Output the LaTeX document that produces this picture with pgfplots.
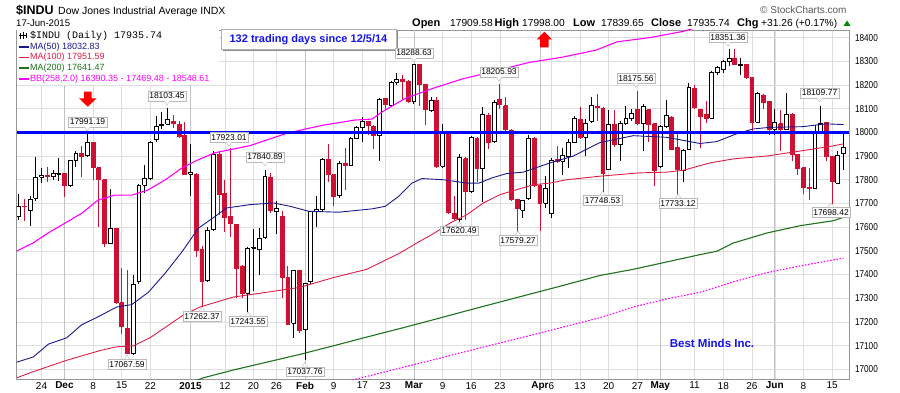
\documentclass[border=0pt]{standalone}
\usepackage{fontspec}
\setmainfont{Liberation Sans}
\newfontfamily\monofont{Liberation Mono}
\newfontfamily\tickfont[FakeStretch=0.82]{Liberation Sans}
\usepackage{pgfplots}
\pgfplotsset{compat=1.18}
\definecolor{cred}{RGB}{204,17,51}
\definecolor{ma50}{RGB}{25,25,140}
\definecolor{ma100}{RGB}{220,30,70}
\definecolor{ma200}{RGB}{30,115,30}
\definecolor{bbm}{RGB}{255,0,255}
\definecolor{hline}{RGB}{0,0,255}
\definecolor{tblue}{RGB}{20,20,235}
\definecolor{gridc}{RGB}{222,222,222}
\definecolor{monthc}{RGB}{195,195,195}
\definecolor{framec}{RGB}{150,150,150}
\pgfplotsset{
 wickhb/.style={draw=black,line width=0.8pt,forget plot},
 wickhr/.style={draw=cred,line width=0.8pt,forget plot},
 wickfb/.style={draw=black,line width=0.8pt,forget plot},
 wickfr/.style={draw=cred,line width=0.8pt,forget plot},
 bodyhb/.style={draw=black,fill=white,line width=0.8pt,forget plot},
 bodyhr/.style={draw=cred,fill=white,line width=0.8pt,forget plot},
 bodyfb/.style={draw=black,fill=black,line width=0.8pt,forget plot},
 bodyfr/.style={draw=cred,fill=cred,line width=0.8pt,forget plot},
}
\newcommand\cndl[6]{%
  \pgfmathsetmacro\xl{#1-0.34}%
  \pgfmathsetmacro\xr{#1+0.34}%
  \edef\cndltmp{%
    \noexpand\addplot[wick#6] coordinates {(#1,#3) (#1,#4)};%
    \noexpand\addplot[body#6] coordinates {(\xl,#2) (\xr,#2) (\xr,#5) (\xl,#5) (\xl,#2)};%
  }%
  \cndltmp
}
\newcommand\lf{\fontsize{8.5}{9}\selectfont}
\tikzset{vlbl/.style={draw=gray!55,fill=white,inner xsep=1.5pt,inner ysep=1.5pt,text height=6.3pt,text depth=0.3pt,font=\lf}}
\newcommand\lbltop[3]{%
  \node[vlbl] (t) at (#1pt,-#2pt) {#3};
  \fill[white] ([xshift=-2.8pt]t.south) -- ([yshift=-4pt]t.south) -- ([xshift=2.8pt]t.south) -- cycle;
  \draw[gray!55] ([xshift=-2.8pt]t.south) -- ([yshift=-4pt]t.south) -- ([xshift=2.8pt]t.south);
}
\newcommand\lblbot[3]{%
  \node[vlbl] (t) at (#1pt,-#2pt) {#3};
  \fill[white] ([xshift=-2.8pt]t.north) -- ([yshift=4pt]t.north) -- ([xshift=2.8pt]t.north) -- cycle;
  \draw[gray!55] ([xshift=-2.8pt]t.north) -- ([yshift=4pt]t.north) -- ([xshift=2.8pt]t.north);
}
\begin{document}
\begin{tikzpicture}
\begin{axis}[
  at={(16.7pt,-30pt)}, anchor=north west,
  scale only axis, width=832.3pt, height=349pt,
  xmin=-8.33, xmax=136.95,
  ymin=16959, ymax=18432,
  scaled y ticks=false, scaled x ticks=false,
  ytick={17000,17100,17200,17300,17400,17500,17600,17700,17800,17900,18000,18100,18200,18300,18400},
  yticklabels={17000,17100,17200,17300,17400,17500,17600,17700,17800,17900,18000,18100,18200,18300,18400},
  yticklabel pos=right,
  yticklabel style={font=\tickfont\fontsize{10}{11}\selectfont, xshift=2.5pt},
  xtick={-4,0,5,10,15,22,28,33,37,42,47,52,56,61,66,71,76,83,85,90,95,100,104,110,115,120,124,129,134},
  xticklabels={24,\textbf{Dec},8,15,22,\textbf{2015},12,20,26,\textbf{Feb},9,17,23,\textbf{Mar},9,16,23,\textbf{Apr},6,13,20,27,\textbf{May},11,18,26,\textbf{Jun},8,15},
  xticklabel style={font=\fontsize{10}{11}\selectfont, yshift=0.5pt},
  extra x ticks={0,22,42,61,83,104,124},
  extra x tick labels={},
  extra x tick style={major grid style={draw=monthc,line width=0.7pt}},
  grid=major,
  major grid style={draw=gridc,line width=0.6pt},
  major tick length=0pt,
  tick style={draw=none},
  axis line style={draw=framec,line width=0.7pt},
]
% ---- candles: index, open, high, low, close, type
\cndl{-8}{17647}{17740}{17630}{17687.82}{hb}
\cndl{-7}{17688}{17720}{17626}{17685.73}{fr}
\cndl{-6}{17670}{17730}{17603}{17719.00}{hb}
\cndl{-5}{17722}{17894}{17710}{17810.06}{hb}
\cndl{-4}{17810}{17850}{17786}{17817.90}{hb}
\cndl{-3}{17820}{17855}{17790}{17814.94}{fr}
\cndl{-2}{17815}{17840}{17800}{17827.75}{hb}
\cndl{-1}{17824}{17893}{17795}{17828.24}{hb}
\cndl{0}{17828}{17830}{17727}{17776.80}{fr}
\cndl{1}{17777}{17885}{17770}{17879.55}{hb}
\cndl{2}{17880}{17920}{17855}{17912.62}{hb}
\cndl{3}{17912}{17944}{17811}{17900.10}{fr}
\cndl{4}{17903}{17991.19}{17895}{17958.79}{hb}
\cndl{5}{17957}{17960}{17800}{17852.48}{fr}
\cndl{6}{17850}{17852}{17600}{17801.20}{fr}
\cndl{7}{17801}{17805}{17515}{17533.15}{fr}
\cndl{8}{17533}{17760}{17530}{17596.34}{hb}
\cndl{9}{17594}{17596}{17275}{17280.83}{fr}
\cndl{10}{17281}{17427}{17150}{17180.84}{fr}
\cndl{11}{17173}{17420}{17067.59}{17068.87}{fr}
\cndl{12}{17069}{17400}{17060}{17356.87}{hb}
\cndl{13}{17370}{17780}{17360}{17778.15}{hb}
\cndl{14}{17778}{17862}{17745}{17804.80}{hb}
\cndl{15}{17805}{17965}{17800}{17959.44}{hb}
\cndl{16}{17970}{18069}{17960}{18024.17}{hb}
\cndl{17}{18035}{18086}{18015}{18030.21}{fb}
\cndl{18}{18035}{18103.45}{18030}{18053.71}{hb}
\cndl{19}{18047}{18075}{18020}{18038.23}{fr}
\cndl{20}{18035}{18050}{17975}{17983.07}{fr}
\cndl{21}{17987}{18043}{17820}{17823.07}{fr}
\cndl{22}{17823}{17951}{17731}{17832.99}{hb}
\cndl{23}{17823}{17830}{17476}{17501.65}{fr}
\cndl{24}{17504}{17520}{17262.37}{17371.64}{fr}
\cndl{25}{17374}{17600}{17370}{17584.52}{hb}
\cndl{26}{17590}{17923.01}{17585}{17907.87}{hb}
\cndl{27}{17907}{17916}{17650}{17737.37}{fr}
\cndl{28}{17744}{17800}{17580}{17640.84}{fr}
\cndl{29}{17646}{17935}{17560}{17613.68}{fr}
\cndl{30}{17610}{17615}{17300}{17427.09}{fr}
\cndl{31}{17436}{17440}{17300}{17320.71}{fr}
\cndl{32}{17320}{17515}{17243.55}{17511.57}{hb}
\cndl{33}{17510}{17590}{17330}{17515.23}{hb}
\cndl{34}{17508}{17596}{17400}{17554.28}{hb}
\cndl{35}{17557}{17840.89}{17550}{17813.98}{hb}
\cndl{36}{17811}{17830}{17660}{17672.60}{fr}
\cndl{37}{17668}{17710}{17570}{17678.70}{hb}
\cndl{38}{17645}{17670}{17300}{17387.21}{fr}
\cndl{39}{17388}{17436}{17187}{17191.37}{fr}
\cndl{40}{17194}{17420}{17133}{17416.85}{hb}
\cndl{41}{17419}{17420}{17155}{17164.95}{fr}
\cndl{42}{17167}{17365}{17037.76}{17361.04}{hb}
\cndl{43}{17370}{17670}{17360}{17666.40}{hb}
\cndl{44}{17666}{17730}{17600}{17673.02}{hb}
\cndl{45}{17674}{17890}{17670}{17884.88}{hb}
\cndl{46}{17886}{17951}{17790}{17824.29}{fr}
\cndl{47}{17822}{17825}{17688}{17729.21}{fr}
\cndl{48}{17733}{17880}{17725}{17868.76}{hb}
\cndl{49}{17870}{17935}{17758}{17862.14}{fr}
\cndl{50}{17860}{17980}{17860}{17972.38}{hb}
\cndl{51}{17974}{18025}{17970}{18019.35}{hb}
\cndl{52}{18021}{18065}{17960}{18047.58}{hb}
\cndl{53}{18045}{18050}{17990}{18029.85}{fr}
\cndl{54}{18026}{18030}{17928}{17985.77}{fr}
\cndl{55}{17986}{18145}{17879}{18140.44}{hb}
\cndl{56}{18144}{18145}{18100}{18116.84}{fr}
\cndl{57}{18112}{18215}{18105}{18209.19}{hb}
\cndl{58}{18212}{18249}{18200}{18224.57}{hb}
\cndl{59}{18224}{18240}{18135}{18214.42}{fr}
\cndl{60}{18215}{18220}{18125}{18132.70}{fr}
\cndl{61}{18130}{18288.63}{18120}{18288.63}{hb}
\cndl{62}{18288}{18289}{18110}{18203.37}{fr}
\cndl{63}{18202}{18205}{18029}{18096.90}{fr}
\cndl{64}{18093}{18150}{18085}{18135.72}{hb}
\cndl{65}{18136}{18150}{17850}{17856.78}{fr}
\cndl{66}{17857}{18036}{17850}{17995.72}{hb}
\cndl{67}{17993}{17995}{17655}{17662.94}{fr}
\cndl{68}{17659}{17730}{17630}{17635.39}{fr}
\cndl{69}{17632}{17910}{17620.49}{17895.22}{hb}
\cndl{70}{17889}{17895}{17630}{17749.31}{fr}
\cndl{71}{17751}{17985}{17745}{17977.42}{hb}
\cndl{72}{17974}{17980}{17790}{17849.08}{fr}
\cndl{73}{17846}{18105}{17705}{18076.19}{hb}
\cndl{74}{18072}{18080}{17931}{17959.03}{fr}
\cndl{75}{17960}{18135}{17955}{18127.65}{hb}
\cndl{76}{18140}{18205.93}{18100}{18116.04}{fr}
\cndl{77}{18112}{18150}{18000}{18011.14}{fr}
\cndl{78}{18010}{18015}{17710}{17718.54}{fr}
\cndl{79}{17716}{17720}{17579.27}{17678.23}{fr}
\cndl{80}{17672}{17715}{17640}{17712.66}{hb}
\cndl{81}{17720}{17990}{17715}{17976.31}{hb}
\cndl{82}{17975}{17980}{17770}{17776.12}{fr}
\cndl{83}{17776}{17780}{17584}{17698.18}{fr}
\cndl{84}{17700}{17815}{17681}{17763.24}{hb}
\cndl{85}{17660}{17890}{17640}{17880.85}{hb}
\cndl{86}{17886}{17943}{17870}{17875.42}{fr}
\cndl{87}{17879}{17935}{17820}{17902.51}{hb}
\cndl{88}{17897}{17970}{17850}{17958.73}{hb}
\cndl{89}{17957}{18070}{17955}{18057.65}{hb}
\cndl{90}{18055}{18108}{17970}{17977.04}{fr}
\cndl{91}{17979}{18055}{17900}{18036.70}{hb}
\cndl{92}{18046}{18150}{18040}{18112.61}{hb}
\cndl{93}{18110}{18160}{18050}{18105.77}{fr}
\cndl{94}{18103}{18105}{17748.53}{17826.30}{fr}
\cndl{95}{17843}{18093}{17840}{18034.93}{hb}
\cndl{96}{18034}{18093}{17940}{17949.59}{fr}
\cndl{97}{17950}{18050}{17880}{18038.27}{hb}
\cndl{98}{18036}{18110}{18030}{18058.69}{hb}
\cndl{99}{18057}{18100}{18050}{18080.14}{hb}
\cndl{100}{18098}{18175.56}{18030}{18037.97}{fr}
\cndl{101}{18036}{18120}{17922}{18110.14}{hb}
\cndl{102}{18096}{18100}{17960}{18035.53}{fr}
\cndl{103}{18036}{18036}{17772}{17840.52}{fr}
\cndl{104}{17857}{18030}{17850}{18024.06}{hb}
\cndl{105}{18024}{18136}{18020}{18070.40}{hb}
\cndl{106}{18065}{18070}{17925}{17928.20}{fr}
\cndl{107}{17935}{18000}{17733.12}{17841.98}{fr}
\cndl{108}{17840}{17930}{17790}{17924.06}{hb}
\cndl{109}{17928}{18210}{17925}{18191.11}{hb}
\cndl{110}{18187}{18200}{18100}{18105.17}{fr}
\cndl{111}{18098}{18100}{17935}{18068.23}{fr}
\cndl{112}{18075}{18133}{18040}{18060.49}{fr}
\cndl{113}{18060}{18260}{18060}{18252.24}{hb}
\cndl{114}{18252}{18280}{18240}{18272.56}{hb}
\cndl{115}{18266}{18305}{18250}{18298.88}{hb}
\cndl{116}{18300}{18351.36}{18280}{18312.39}{hb}
\cndl{117}{18314}{18350}{18283}{18285.40}{fr}
\cndl{118}{18283}{18315}{18240}{18285.74}{hb}
\cndl{119}{18288}{18290}{18224}{18232.02}{fr}
\cndl{120}{18230}{18232}{18000}{18041.54}{fr}
\cndl{121}{18043}{18170}{18040}{18162.99}{hb}
\cndl{122}{18158}{18160}{18100}{18126.12}{fr}
\cndl{123}{18129}{18130}{17990}{18010.68}{fr}
\cndl{124}{18014}{18100}{17990}{18040.37}{hb}
\cndl{125}{18036}{18093}{17922}{18011.94}{fr}
\cndl{126}{18014}{18165}{18010}{18076.27}{hb}
\cndl{127}{18074}{18080}{17880}{17905.58}{fr}
\cndl{128}{17907}{17910}{17820}{17849.46}{fr}
\cndl{129}{17850}{17855}{17740}{17766.55}{fr}
\cndl{130}{17768}{17850}{17716}{17764.04}{fr}
\cndl{131}{17765}{18030}{17765}{18000.40}{hb}
\cndl{132}{18000}{18109.77}{17995}{18039.37}{hb}
\cndl{133}{18040}{18040}{17880}{17898.84}{fr}
\cndl{134}{17897}{17900}{17698.42}{17791.17}{fr}
\cndl{135}{17785}{17920}{17780}{17904.48}{hb}
\cndl{136}{17909.58}{17998.00}{17839.65}{17935.74}{hb}
% ---- overlays
\addplot[bbm, line width=1.1pt, dash pattern=on 1.6pt off 1.6pt, forget plot] coordinates {
(48.1,16940) (51.6,16963) (58.58,17005) (64.39,17040) (70.22,17076) (76.02,17111) (81.85,17146) (87.68,17182) (93.49,17218) (99.3,17263) (105.13,17297) (110.94,17325) (116.76,17369) (122.59,17408) (128.4,17436) (136,17469.48)};
\addplot[ma200, line width=1.1pt, forget plot] coordinates {
(20.2,16928) (24.25,16964) (29.48,16997) (35.31,17030) (41.12,17063) (46.94,17099) (52.77,17136) (58.58,17172) (64.39,17209) (70.22,17247) (76.02,17284) (81.85,17321) (87.68,17358) (93.49,17396) (99.3,17422) (105.13,17453) (110.94,17484) (113.86,17498) (116.76,17533) (122.59,17575) (128.4,17606) (134.21,17627) (136,17641.47)};
\addplot[ma100, line width=0.9pt, forget plot] coordinates {
(-8.33,16964) (-5.43,16990) (0.40,17038) (6.21,17079) (9.13,17095) (12.03,17099) (14.94,17133) (17.86,17181) (20.75,17229) (23.67,17263) (29.48,17305) (35.31,17325) (41.12,17346) (46.94,17387) (52.77,17422) (58.58,17491) (61.49,17533) (64.39,17572) (67.31,17617) (70.22,17652) (73.12,17702) (76.02,17737) (81.85,17779) (84.76,17786) (87.68,17800) (93.49,17815) (100.3,17829) (105.13,17832) (108.03,17840) (112.69,17871) (116.76,17888) (122.59,17900) (128.4,17921) (134.21,17943) (136,17951.59)};
\addplot[ma50, line width=0.9pt, forget plot] coordinates {
(-8.33,17030) (-5.43,17052) (-2.81,17106) (0.40,17133) (3.02,17188) (5.92,17222) (9.13,17263) (11.75,17273) (14.65,17325) (17.56,17405) (20.5,17495) (23.37,17595) (26.29,17645) (28.33,17681) (32.40,17695) (36.46,17702) (39.38,17688) (42.64,17667) (47.88,17663) (53.69,17677) (56.01,17688) (58.35,17730) (60.67,17786) (62.42,17805) (66.1,17800) (70.22,17786) (72.37,17786) (74.64,17808) (77.2,17826) (80.1,17832) (84.76,17871) (88.83,17900) (92.32,17943) (93.49,17957) (99.3,17986) (105.13,17979) (110.94,17953) (113.86,17961) (117.23,17993) (120.14,18014) (123.04,18021) (128.87,18024) (132.94,18036) (136,18032.83)};
\addplot[bbm, line width=1.1pt, forget plot] coordinates {
(-8.33,17499) (-5.48,17533) (-2.86,17575) (3.07,17659) (5.86,17714) (8.83,17735) (11.80,17735) (14.59,17757) (17.56,17799) (20.53,17850) (23.32,17884) (26.29,17914) (32.4,17944) (38.16,17991) (41.12,18009) (45.1,18030) (50.72,18052) (53.69,18056) (55.44,18086) (59.45,18143) (64.34,18186) (69.4,18225) (75.34,18260) (81.1,18295) (86.85,18317) (92.79,18347) (96.46,18382) (102.2,18400) (107.98,18426) (110.6,18444) (135.9,18549)};
\addplot[hline, line width=2.8pt, forget plot] coordinates {(-8.33,18000) (136.95,18000)};
\end{axis}
% ---- header texts
\node[anchor=base west, inner sep=0, font=\bfseries\fontsize{12.5}{13}\selectfont] at (16pt,-15pt) {\$INDU};
\node[anchor=base west, inner sep=0, font=\fontsize{10.5}{12}\selectfont] at (58pt,-15pt) {Dow Jones Industrial Average INDX};
\node[anchor=base west, inner sep=0, font=\fontsize{9.6}{11}\selectfont] at (16pt,-27pt) {17-Jun-2015};
\node[anchor=base west, inner sep=0, font=\fontsize{10}{11}\selectfont, text=black!65] at (760pt,-13.5pt) {\textcopyright{} StockCharts.com};
\begin{scope}[every node/.style={anchor=base west, inner sep=0, font=\fontsize{10.2}{11}\selectfont}]
\node[font=\bfseries\fontsize{11}{12}\selectfont] at (412pt,-27pt) {Open};
\node at (450pt,-27pt) {17909.58};
\node[font=\bfseries\fontsize{11}{12}\selectfont] at (494.5pt,-27pt) {High};
\node at (522pt,-27pt) {17998.00};
\node[font=\bfseries\fontsize{11}{12}\selectfont] at (573pt,-27pt) {Low};
\node at (601pt,-27pt) {17839.65};
\node[font=\bfseries\fontsize{11}{12}\selectfont] at (651pt,-27pt) {Close};
\node at (687pt,-27pt) {17935.74};
\node[font=\bfseries\fontsize{11}{12}\selectfont] at (737pt,-27pt) {Chg};
\node at (761pt,-27pt) {+31.26 (+0.17\%)};
\end{scope}
\fill[green!55!black] (843.5pt,-26pt) -- (850.5pt,-26pt) -- (847pt,-20.5pt) -- cycle;
% ---- legend
\fill[white] (17.1pt,-30.4pt) rectangle (219pt,-85pt);
\draw[black, line width=0.6pt] (20pt,-33pt) -- (20pt,-39pt) (23pt,-32.5pt) -- (23pt,-39.5pt) (26pt,-33pt) -- (26pt,-38.5pt);
\draw[black, line width=0.6pt] (19pt,-35pt) -- (27pt,-35pt);
\node[anchor=west, inner sep=0, font=\monofont\fontsize{10}{11}\selectfont] at (30pt,-36pt) {\$INDU (Daily) 17935.74};
\draw[ma50, line width=1.6pt] (19pt,-47pt) -- (28.5pt,-47pt);
\node[anchor=west, inner sep=0, text=ma50, font=\fontsize{9}{10}\selectfont] at (30pt,-47pt) {MA(50) 18032.83};
\draw[ma100, line width=1.6pt] (19pt,-57.5pt) -- (28.5pt,-57.5pt);
\node[anchor=west, inner sep=0, text=ma100, font=\fontsize{9}{10}\selectfont] at (30pt,-57.5pt) {MA(100) 17951.59};
\draw[ma200, line width=1.6pt] (19pt,-68pt) -- (28.5pt,-68pt);
\node[anchor=west, inner sep=0, text=ma200, font=\fontsize{9}{10}\selectfont] at (30pt,-68pt) {MA(200) 17641.47};
\draw[bbm, line width=1.6pt] (19pt,-79pt) -- (28.5pt,-79pt);
\node[anchor=west, inner sep=0, text=bbm, font=\fontsize{9}{10}\selectfont] at (30pt,-79pt) {BB(258,2.0) 16390.35 - 17469.48 - 18548.61};
% ---- text box
\draw[black!45, line width=0.8pt] (222.7pt,-50.3pt) -- (397.7pt,-50.3pt) -- (397.7pt,-30.3pt);
\draw[black!30, fill=white, line width=0.6pt] (221.7pt,-29.3pt) rectangle (396.7pt,-49.3pt);
\node[text=tblue, font=\bfseries\fontsize{11}{12}\selectfont, inner sep=0] at (308.5pt,-39.3pt) {132 trading days since 12/5/14};
\node[text=tblue, font=\bfseries\fontsize{11.5}{12}\selectfont, inner sep=0] at (712pt,-343.5pt) {Best Minds Inc.};
% ---- arrows
\fill[red] (84pt,-91.7pt) -- (91.7pt,-91.7pt) -- (91.7pt,-98.3pt) -- (96.7pt,-98.3pt) -- (87.8pt,-106.7pt) -- (79pt,-98.3pt) -- (84pt,-98.3pt) -- cycle;
\fill[red] (544.3pt,-31.7pt) -- (552pt,-39.3pt) -- (548.7pt,-39.3pt) -- (548.7pt,-47.3pt) -- (540pt,-47.3pt) -- (540pt,-39.3pt) -- (536.7pt,-39.3pt) -- cycle;
% ---- value labels
\lbltop{87.5}{122}{17991.19}
\lbltop{167}{96}{18103.45}
\lbltop{229}{137.5}{17923.01}
\lbltop{265}{157}{17840.89}
\lbltop{414}{53}{18288.63}
\lbltop{499}{72}{18205.93}
\lbltop{636}{78.5}{18175.56}
\lbltop{728}{37.5}{18351.36}
\lbltop{819.5}{93}{18109.77}
\lblbot{127}{364}{17067.59}
\lblbot{202}{316}{17262.37}
\lblbot{248}{321}{17243.55}
\lblbot{305}{371.5}{17037.76}
\lblbot{459}{230.5}{17620.49}
\lblbot{518}{240}{17579.27}
\lblbot{602.5}{200.5}{17748.53}
\lblbot{678}{203}{17733.12}
\lblbot{831}{212}{17698.42}
\pgfresetboundingbox
\path[use as bounding box] (0pt,0pt) rectangle (900pt,-393pt);
\end{tikzpicture}
\end{document}
